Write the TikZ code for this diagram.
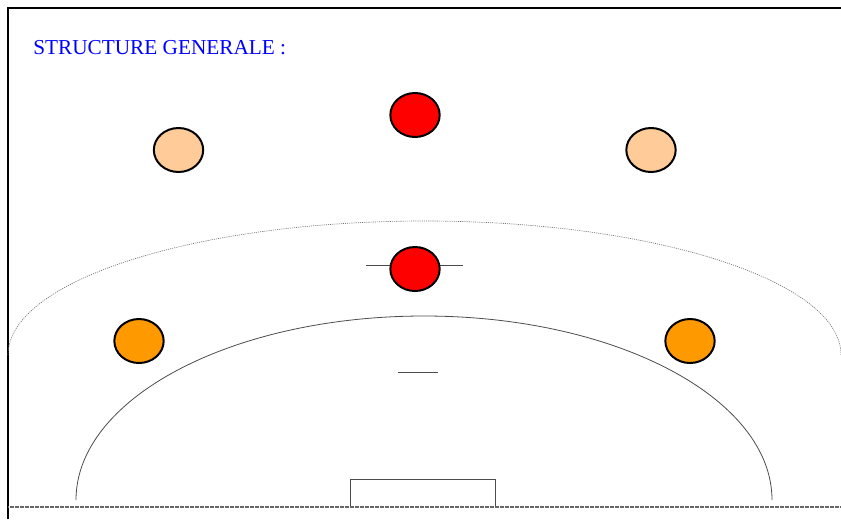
\documentclass[tikz,border=0pt]{standalone}
\usepackage{fontspec}
\setmainfont{Liberation Serif}
\definecolor{peach}{RGB}{255,204,153}
\definecolor{amber}{RGB}{255,153,0}
\definecolor{titleblue}{RGB}{0,0,255}
\tikzset{
  player/.style={draw=black,line width=1.5pt,ellipse,minimum width=37pt,minimum height=33pt,inner sep=0pt},
  thinline/.style={draw=black!70,line width=0.6pt},
  dottedline/.style={draw=black!55,line width=0.5pt,dash pattern=on 0.8pt off 0.8pt},
  groundline/.style={draw=black!60,line width=1pt,dash pattern=on 1pt off 0.25pt},
  frameline/.style={draw=black,line width=1.6pt}
}
\usetikzlibrary{shapes.geometric}
\begin{document}
\begin{tikzpicture}[x=0.75pt,y=-0.75pt]
\useasboundingbox (0,0) rectangle (841,519);
\draw[frameline] (8,519) -- (8,8) -- (841,8);
\node[anchor=base west,inner sep=0pt,text=titleblue,font=\fontsize{15.95}{18}\selectfont] (title) at (33,54) {STRUCTURE GENERALE :};
% free-throw and goal-area arcs
\draw[dottedline] (8,355) arc[start angle=180,end angle=360,x radius=416.5,y radius=134];
\draw[thinline] (76,500) arc[start angle=180,end angle=360,x radius=348,y radius=184];
% short marks
\draw[thinline] (366,265) -- (463,265);
\draw[thinline] (398,372) -- (438,372);
% goal and goal line
\draw[thinline] (350,507) -- (350,479) -- (495,479) -- (495,507);
\draw[groundline] (8,507) -- (841,507);
% players
\node[player,fill=red] (p1) at (415,115) {};
\node[player,fill=peach] (p2) at (178.5,150) {};
\node[player,fill=peach] (p3) at (651,150) {};
\node[player,fill=red] (p4) at (415,269) {};
\node[player,fill=amber] (p5) at (139,341) {};
\node[player,fill=amber] (p6) at (690,341) {};
\end{tikzpicture}
\end{document}
